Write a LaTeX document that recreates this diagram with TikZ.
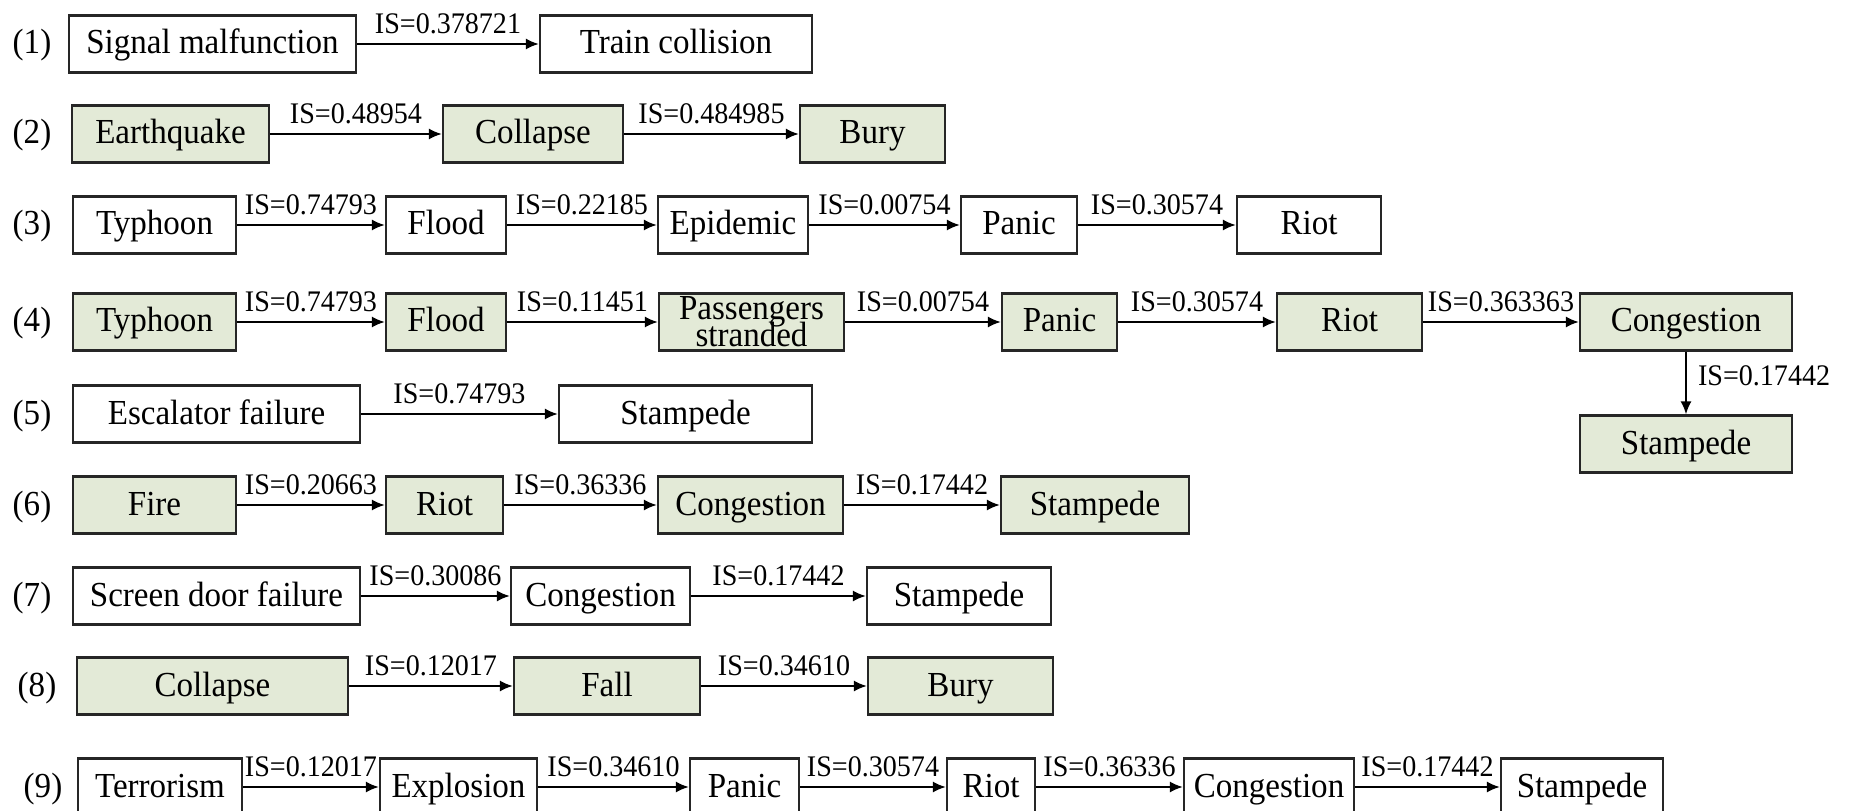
\documentclass[tikz,border=0pt]{standalone}
\usepackage{fontspec}
\setmainfont{Liberation Serif}[FakeStretch=0.94]
\usetikzlibrary{arrows.meta}
\definecolor{sagegreen}{RGB}{227,234,215}
\newcommand{\evfont}{\fontsize{10}{12}\selectfont}
\newcommand{\isfont}{\fontsize{8.5}{10}\selectfont}

\begin{document}
\begin{tikzpicture}[x=0.1mm,y=-0.1mm,
    evbox/.style={draw=black!85,line width=0.6pt,fill=white,minimum height=5.7mm,inner sep=0pt,
      text height=2.4mm,text depth=0.4mm,font=\evfont},
    evgreen/.style={evbox,fill=sagegreen},
    flow/.style={-{Latex[length=1.3mm,width=1.1mm]},line width=0.6pt},
    islab/.style={above=0.9mm,inner sep=0pt,font=\isfont},
    rowno/.style={font=\evfont,inner sep=0pt,text height=2.4mm,text depth=0.4mm}]
        \useasboundingbox (0,0) rectangle (1849,811);

        % Cadena (1)
        \node[rowno] (n1) at (32,44) {(1)};
        \node[evbox,minimum width=28.7mm] (r1a) at (212.5,44) {Signal malfunction};
        \node[evbox,minimum width=27.2mm] (r1b) at (676,44) {Train collision};
        \draw[flow] (r1a) -- node[islab]{IS=0.378721} (r1b);

        % Cadena (2)
        \node[rowno] (n2) at (32,134) {(2)};
        \node[evgreen,minimum width=19.7mm] (r2a) at (170.5,134) {Earthquake};
        \node[evgreen,minimum width=18.0mm] (r2b) at (533,134) {Collapse};
        \node[evgreen,minimum width=14.5mm] (r2c) at (872.5,134) {Bury};
        \draw[flow] (r2a) -- node[islab]{IS=0.48954} (r2b);
        \draw[flow] (r2b) -- node[islab]{IS=0.484985} (r2c);

        % Cadena (3)
        \node[rowno] (n3) at (32,225) {(3)};
        \node[evbox,minimum width=16.3mm] (r3a) at (154.5,225) {Typhoon};
        \node[evbox,minimum width=12.0mm] (r3b) at (446,225) {Flood};
        \node[evbox,minimum width=15.0mm] (r3c) at (733,225) {Epidemic};
        \node[evbox,minimum width=11.6mm] (r3d) at (1019,225) {Panic};
        \node[evbox,minimum width=14.4mm] (r3e) at (1309,225) {Riot};
        \draw[flow] (r3a) -- node[islab]{IS=0.74793} (r3b);
        \draw[flow] (r3b) -- node[islab]{IS=0.22185} (r3c);
        \draw[flow] (r3c) -- node[islab]{IS=0.00754} (r3d);
        \draw[flow] (r3d) -- node[islab]{IS=0.30574} (r3e);

        % Cadena (4)
        \node[rowno] (n4) at (32,322) {(4)};
        \node[evgreen,minimum width=16.3mm] (r4a) at (154.5,322) {Typhoon};
        \node[evgreen,minimum width=12.0mm] (r4b) at (446,322) {Flood};
        \node[evgreen,minimum width=18.5mm,align=center,text height=,text depth=] (r4c) at (751.5,322) {Passengers\\[-1.5mm]stranded};
        \node[evgreen,minimum width=11.5mm] (r4d) at (1059.5,322) {Panic};
        \node[evgreen,minimum width=14.5mm] (r4e) at (1349.5,322) {Riot};
        \node[evgreen,minimum width=21.2mm] (r4f) at (1686,322) {Congestion};
        \node[evgreen,minimum width=21.2mm] (r4g) at (1686,444) {Stampede};
        \draw[flow] (r4a) -- node[islab]{IS=0.74793} (r4b);
        \draw[flow] (r4b) -- node[islab]{IS=0.11451} (r4c);
        \draw[flow] (r4c) -- node[islab]{IS=0.00754} (r4d);
        \draw[flow] (r4d) -- node[islab]{IS=0.30574} (r4e);
        \draw[flow] (r4e) -- node[islab]{IS=0.363363} (r4f);
        \draw[flow] (r4f) -- node[pos=0.38,right=1.1mm,inner sep=0pt,font=\isfont]{IS=0.17442} (r4g);

        % Cadena (5)
        \node[rowno] (n5) at (32,414) {(5)};
        \node[evbox,minimum width=28.7mm] (r5a) at (216.5,414) {Escalator failure};
        \node[evbox,minimum width=25.3mm] (r5b) at (685.5,414) {Stampede};
        \draw[flow] (r5a) -- node[islab]{IS=0.74793} (r5b);

        % Cadena (6)
        \node[rowno] (n6) at (32,505) {(6)};
        \node[evgreen,minimum width=16.3mm] (r6a) at (154.5,505) {Fire};
        \node[evgreen,minimum width=11.7mm] (r6b) at (444.5,505) {Riot};
        \node[evgreen,minimum width=18.5mm] (r6c) at (750.5,505) {Congestion};
        \node[evgreen,minimum width=18.8mm] (r6d) at (1095,505) {Stampede};
        \draw[flow] (r6a) -- node[islab]{IS=0.20663} (r6b);
        \draw[flow] (r6b) -- node[islab]{IS=0.36336} (r6c);
        \draw[flow] (r6c) -- node[islab]{IS=0.17442} (r6d);

        % Cadena (7)
        \node[rowno] (n7) at (32,596) {(7)};
        \node[evbox,minimum width=28.7mm] (r7a) at (216.5,596) {Screen door failure};
        \node[evbox,minimum width=17.9mm] (r7b) at (600.5,596) {Congestion};
        \node[evbox,minimum width=18.4mm] (r7c) at (959,596) {Stampede};
        \draw[flow] (r7a) -- node[islab]{IS=0.30086} (r7b);
        \draw[flow] (r7b) -- node[islab]{IS=0.17442} (r7c);

        % Cadena (8)
        \node[rowno] (n8) at (37,686) {(8)};
        \node[evgreen,minimum width=27.1mm] (r8a) at (212.5,686) {Collapse};
        \node[evgreen,minimum width=18.6mm] (r8b) at (607,686) {Fall};
        \node[evgreen,minimum width=18.5mm] (r8c) at (960.5,686) {Bury};
        \draw[flow] (r8a) -- node[islab]{IS=0.12017} (r8b);
        \draw[flow] (r8b) -- node[islab]{IS=0.34610} (r8c);

        % Cadena (9): se corta en el borde inferior
        \node[rowno] (n9) at (43,787) {(9)};
        \node[evbox,minimum width=16.4mm] (r9a) at (160,787) {Terrorism};
        \node[evbox,minimum width=15.7mm] (r9b) at (458.5,787) {Explosion};
        \node[evbox,minimum width=10.9mm] (r9c) at (744.5,787) {Panic};
        \node[evbox,minimum width=8.8mm] (r9d) at (991,787) {Riot};
        \node[evbox,minimum width=17.0mm] (r9e) at (1269,787) {Congestion};
        \node[evbox,minimum width=16.2mm] (r9f) at (1582,787) {Stampede};
        \draw[flow] (r9a) -- node[islab]{IS=0.12017} (r9b);
        \draw[flow] (r9b) -- node[islab]{IS=0.34610} (r9c);
        \draw[flow] (r9c) -- node[islab]{IS=0.30574} (r9d);
        \draw[flow] (r9d) -- node[islab]{IS=0.36336} (r9e);
        \draw[flow] (r9e) -- node[islab]{IS=0.17442} (r9f);

    \end{tikzpicture}
\end{document}
